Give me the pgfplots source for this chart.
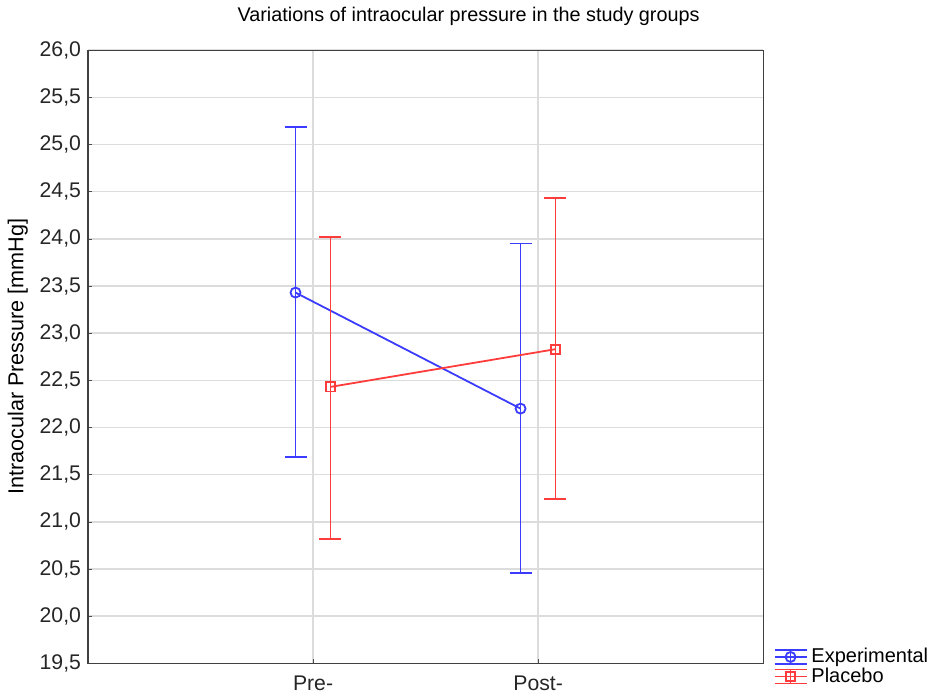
\documentclass[border=0pt]{standalone}
\usepackage{fontspec}
\setmainfont{Liberation Sans}
\usepackage{pgfplots}
\pgfplotsset{compat=1.18}
\definecolor{expblue}{RGB}{60,60,255}
\definecolor{plared}{RGB}{255,60,60}
\definecolor{gridgray}{RGB}{220,220,220}
\begin{document}
\begin{tikzpicture}
\begin{axis}[
  scale only axis,
  width=337.5pt, height=306.5pt,
  xmin=0, xmax=3, ymin=19.5, ymax=26,
  xtick={1,2}, xticklabels={Pre-,Post-},
  ytick={19.5,20,...,26},
  /pgf/number format/.cd, fixed, fixed zerofill, precision=1, use comma, assume math mode=true,
  /pgfplots/.cd,
  tick label style={font=\fontsize{10.6}{12}\selectfont, color=black!85},
  xticklabel style={yshift=-3pt},
  tick align=inside, major tick length=2pt,
  xtick pos=bottom, ytick pos=left,
  tick style={color=black!70},
  axis line style={color=black!75, line width=0.6pt},
  grid=major,
  major grid style={color=gridgray, line width=0.7pt},
  title={Variations of intraocular pressure in the study groups},
  title style={font=\fontsize{9.9}{11}\selectfont, xshift=21.5pt, yshift=3pt},
  ylabel={Intraocular Pressure [mmHg]},
  ylabel style={font=\fontsize{10.8}{12}\selectfont, at={(rel axis cs:-0.104,0.5)}, anchor=center},
  clip=false,
  legend style={draw=none, fill=none, at={(rel axis cs:1.012,0.035)}, anchor=north west,
    font=\fontsize{10}{11}\selectfont, row sep=-3pt, inner sep=1pt},
  legend cell align=left,
  legend image code/.code={
    \draw[#1,mark=none] (0pt,0pt)--(16pt,0pt);
    \draw[#1,mark=none] (0pt,3.5pt)--(16pt,3.5pt) (0pt,-3.5pt)--(16pt,-3.5pt) (8pt,3.5pt)--(8pt,-3.5pt);
    \draw[#1] plot coordinates {(8pt,0pt)};
  },
]
\draw[draw=none] (rel axis cs:-0.1304,-0.0555) rectangle (rel axis cs:1.259,1.0767);
\addplot[draw=expblue, line width=0.9pt, mark=o, mark size=2.5pt,
  error bars/.cd, y dir=both, y explicit,
  error mark options={rotate=90, mark size=5.5pt, line width=0.9pt, draw=expblue},
  error bar style={line width=0.9pt, draw=expblue}]
  coordinates {
    (0.922,23.43) += (0,1.76) -= (0,1.74)
    (1.922,22.20) += (0,1.75) -= (0,1.74)
  };
\addlegendentry{Experimental}
\addplot[draw=plared, line width=0.9pt, mark=square, mark size=2.3pt,
  error bars/.cd, y dir=both, y explicit,
  error mark options={rotate=90, mark size=5.5pt, line width=0.9pt, draw=plared},
  error bar style={line width=0.9pt, draw=plared}]
  coordinates {
    (1.077,22.43) += (0,1.59) -= (0,1.61)
    (2.077,22.83) += (0,1.60) -= (0,1.59)
  };
\addlegendentry{Placebo}
\end{axis}
\end{tikzpicture}
\end{document}
